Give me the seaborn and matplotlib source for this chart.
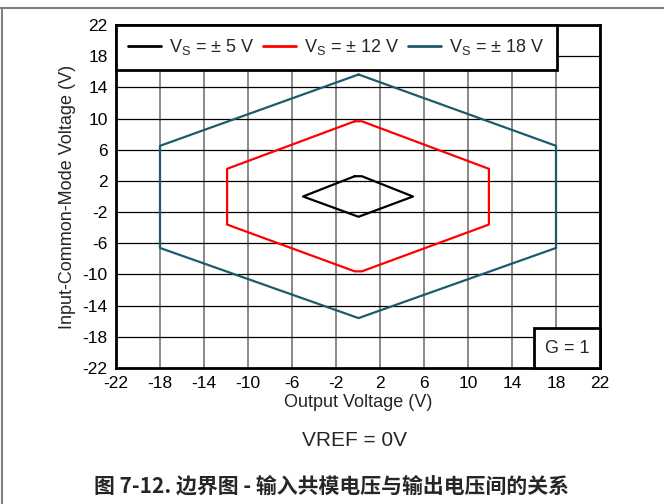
import matplotlib
matplotlib.use("Agg")
import matplotlib.pyplot as plt
import seaborn as sns
import pandas as pd
from matplotlib.lines import Line2D
from matplotlib.patches import Rectangle

# ---- data ----
series_labels = [r"V$_\mathregular{S}$ = ± 5 V",
                 r"V$_\mathregular{S}$ = ± 12 V",
                 r"V$_\mathregular{S}$ = ± 18 V"]
vs5_x = [-0.3, 0.35, 5.0, 0.05, -5.0, -0.3]
vs5_y = [2.6, 2.6, 0.0, -2.6, 0.0, 2.6]
vs12_x = [-0.3, 0.35, 11.9, 11.9, 0.35, -0.3, -11.9, -11.9, -0.3]
vs12_y = [9.65, 9.65, 3.55, -3.6, -9.6, -9.6, -3.6, 3.55, 9.65]
vs18_x = [0.05, 18.0, 18.0, 0.05, -18.0, -18.0, 0.05]
vs18_y = [15.65, 6.5, -6.6, -15.6, -6.6, 6.5, 15.65]
colors = ["#000000", "#ff0000", "#1b5b6c"]
ticks = [-22, -18, -14, -10, -6, -2, 2, 6, 10, 14, 18, 22]

frames = []
for lab, xs, ys in zip(series_labels, [vs5_x, vs12_x, vs18_x], [vs5_y, vs12_y, vs18_y]):
    frames.append(pd.DataFrame({"x": xs, "y": ys, "series": lab}))
df = pd.concat(frames, ignore_index=True)

sns.set_style("white")
plt.rcParams["font.family"] = ["Liberation Sans", "DejaVu Sans"]
plt.rcParams["mathtext.fontset"] = "custom"
plt.rcParams["mathtext.rm"] = "Liberation Sans"

fig = plt.figure(figsize=(6.64, 5.04), dpi=100)
ax = fig.add_axes([116/664, 1-368/504, 484/664, 343/504])

sns.lineplot(data=df, x="x", y="y", hue="series", palette=colors, sort=False,
             estimator=None, lw=1.6, ax=ax, hue_order=series_labels)

ax.set_xlim(-22, 22)
ax.set_ylim(-22, 22)
ax.set_xticks(ticks)
ax.set_yticks(ticks)
ax.set_xticklabels([str(t) for t in ticks])
ax.set_yticklabels([str(t) for t in ticks])
ax.tick_params(axis="both", length=0, labelsize=12.5, colors="black")
ax.tick_params(axis="x", pad=6)
ax.tick_params(axis="y", pad=6)
ax.xaxis.grid(True, color="#808080", lw=1.3)
ax.yaxis.grid(True, color="#000000", lw=0.9)
ax.set_axisbelow(True)
for s in ax.spines.values():
    s.set_color("black")
    s.set_linewidth(2)

ax.set_xlabel("Output Voltage (V)", fontsize=13, labelpad=2)
ax.set_ylabel("Input-Common-Mode Voltage (V)", fontsize=13, labelpad=5)

handles, labels = ax.get_legend_handles_labels()
leg = ax.legend(handles, labels, loc="upper left", bbox_to_anchor=(0, 0.5, 0.911, 0.5),
                mode="expand", ncol=3, borderaxespad=0, fontsize=13, frameon=True,
                fancybox=False, framealpha=1, edgecolor="black", handlelength=1.83,
                borderpad=0.68, handletextpad=0.45, columnspacing=0.5)
leg.get_frame().set_linewidth(2)
for h in leg.get_lines():
    h.set_linewidth(2)

# G = 1 box
ax.add_patch(Rectangle((0.8636, 0.0), 0.1364, 0.1166, transform=ax.transAxes,
                       facecolor="white", edgecolor="black", lw=2, zorder=5, clip_on=False))
ax.text(0.9318, 0.058, "G = 1", transform=ax.transAxes, ha="center", va="center",
        fontsize=13, zorder=6)

fig.text(354/664, 1-441/504, "VREF = 0V", ha="center", va="center", fontsize=15)
fig.text(332/664, 1-486/504, "图 7-12. 边界图 - 输入共模电压与输出电压间的关系",
         ha="center", va="center", fontsize=15, fontweight="bold",
         family=["Noto Sans CJK SC", "DejaVu Sans"])

# page frame lines
fig.add_artist(Line2D([0, 1], [1-8/504, 1-8/504], transform=fig.transFigure,
                      color="#808080", lw=1.5))
fig.add_artist(Line2D([1.5/664, 1.5/664], [0, 1-8/504], transform=fig.transFigure,
                      color="#808080", lw=1.5))

fig.savefig("out.png", dpi=100)
